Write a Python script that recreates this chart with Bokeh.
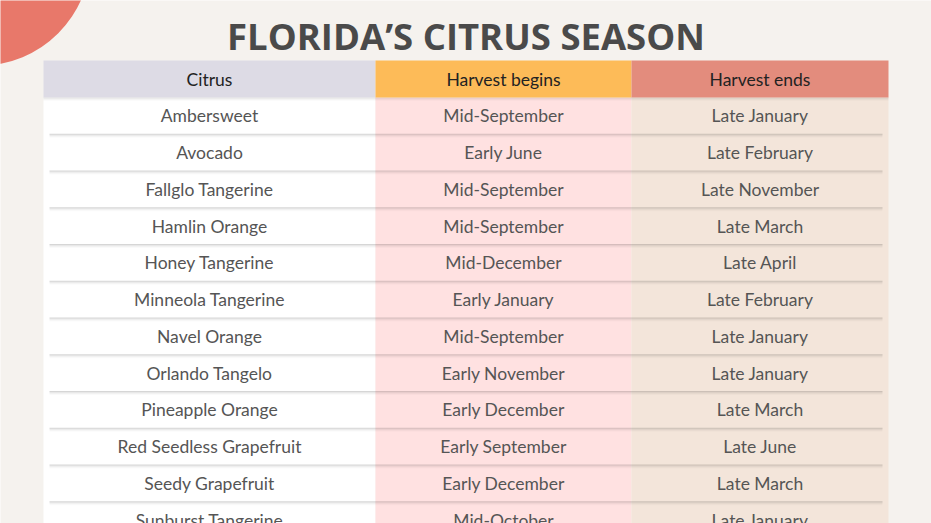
from bokeh.plotting import figure
from bokeh.models import Range1d, ColumnDataSource
from bokeh.core.properties import value
from bokeh.embed import file_html
from bokeh.resources import INLINE

title = "FLORIDA\u2019S CITRUS SEASON"
headers = ["Citrus", "Harvest begins", "Harvest ends"]
citrus = ["Ambersweet", "Avocado", "Fallglo Tangerine", "Hamlin Orange", "Honey Tangerine",
          "Minneola Tangerine", "Navel Orange", "Orlando Tangelo", "Pineapple Orange",
          "Red Seedless Grapefruit", "Seedy Grapefruit", "Sunburst Tangerine"]
begins = ["Mid-September", "Early June", "Mid-September", "Mid-September", "Mid-December",
          "Early January", "Mid-September", "Early November", "Early December",
          "Early September", "Early December", "Mid-October"]
ends = ["Late January", "Late February", "Late November", "Late March", "Late April",
        "Late February", "Late January", "Late January", "Late March", "Late June",
        "Late March", "Late January"]

BG = "#f5f2ee"
header_colors = ["#dddbe5", "#fdbb58", "#e38c7d"]
body_colors = ["#ffffff", "#ffe1e1", "#f3e5da"]
col_edges = [43, 375, 631, 888]
head_top, head_bot = 60, 97
row_h = 36.75
n = len(citrus)

p = figure(width=931, height=523, x_range=Range1d(0, 931), y_range=Range1d(523, 0),
           output_backend="svg", toolbar_location=None, min_border=0)
p.axis.visible = False
p.grid.visible = False
p.outline_line_color = None
p.background_fill_color = BG
p.border_fill_color = BG

# decorative circle
p.ellipse(x=[-20], y=[-45], width=[220], height=[220], fill_color="#e8786a", line_color=None)

lefts = col_edges[:-1]
rights = col_edges[1:]
centers = [(a + b) / 2 for a, b in zip(lefts, rights)]
body_bottom = head_bot + row_h * (n + 1)

# body columns
p.quad(left=lefts, right=rights, top=[head_bot] * 3, bottom=[body_bottom] * 3,
       fill_color=body_colors, line_color=None)

# header shadow
for k, a in enumerate([0.10, 0.06, 0.03]):
    p.segment(x0=[col_edges[0]], x1=[col_edges[-1]], y0=[head_bot + k + 0.5], y1=[head_bot + k + 0.5],
              line_color="#000000", line_alpha=a, line_width=1)

# header cells
p.quad(left=lefts, right=rights, top=[head_top] * 3, bottom=[head_bot] * 3,
       fill_color=header_colors, line_color=None)

# row separators
seps = [head_bot + row_h * (i + 1) for i in range(n)]
for k, a in enumerate([0.16, 0.09, 0.05, 0.02]):
    p.segment(x0=[col_edges[0] + 6] * n, x1=[col_edges[-1] - 6] * n,
              y0=[s + k for s in seps], y1=[s + k for s in seps],
              line_color="#000000", line_alpha=a, line_width=1)

# header text
p.text(x=centers, y=[(head_top + head_bot) / 2] * 3, text=headers,
       text_align="center", text_baseline="middle", text_font=value("Lato"),
       text_font_size="17.5px", text_color="#222222")

# body text
ys = [head_bot + row_h * (i + 0.5) for i in range(n)]
for cx, col in zip(centers, [citrus, begins, ends]):
    src = ColumnDataSource(dict(x=[cx] * n, y=ys, t=col))
    p.text(x="x", y="y", text="t", source=src, text_align="center", text_baseline="middle",
           text_font=value("Lato"), text_font_size="17.5px", text_color="#555555")

# title
p.text(x=[465.5], y=[35], text=[title], text_align="center", text_baseline="middle",
       text_font=value("Open Sans"), text_font_style="bold", text_font_size="36.5px",
       text_color="#4a4a4a")

open("out.html", "w").write(file_html(p, INLINE))
